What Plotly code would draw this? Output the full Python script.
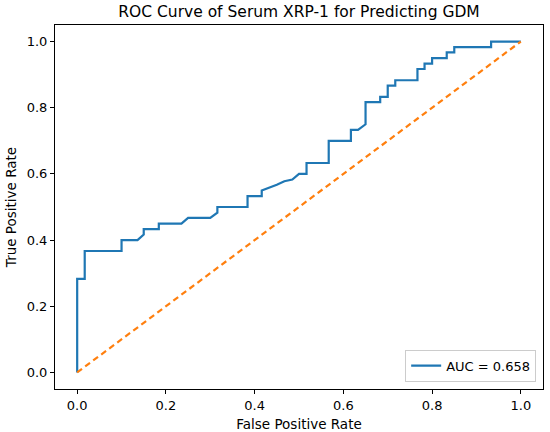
import plotly.graph_objects as go

# ROC points
fpr = [0.0, 0.0, 0.017, 0.017, 0.100, 0.100, 0.136, 0.150, 0.150, 0.184, 0.184,
       0.235, 0.250, 0.300, 0.316, 0.316, 0.384, 0.384, 0.416, 0.416, 0.450,
       0.467, 0.485, 0.500, 0.517, 0.517, 0.567, 0.567, 0.617, 0.617, 0.633,
       0.650, 0.650, 0.683, 0.683, 0.700, 0.700, 0.717, 0.717, 0.767, 0.767,
       0.783, 0.783, 0.800, 0.800, 0.833, 0.833, 0.850, 0.850, 0.933, 0.933, 1.0]
tpr = [0.0, 0.283, 0.283, 0.367, 0.367, 0.400, 0.400, 0.417, 0.433, 0.433, 0.450,
       0.450, 0.467, 0.467, 0.483, 0.500, 0.500, 0.533, 0.533, 0.550, 0.567,
       0.578, 0.583, 0.600, 0.600, 0.633, 0.633, 0.700, 0.700, 0.733, 0.733,
       0.750, 0.817, 0.817, 0.833, 0.833, 0.867, 0.867, 0.883, 0.883, 0.917,
       0.917, 0.933, 0.933, 0.950, 0.950, 0.967, 0.967, 0.983, 0.983, 1.0, 1.0]
auc = 0.658
chance = [0.0, 1.0]
ticks = [0.0, 0.2, 0.4, 0.6, 0.8, 1.0]

fig = go.Figure()
fig.add_trace(go.Scatter(x=fpr, y=tpr, mode='lines', name=f'AUC = {auc:.3f}',
                         line=dict(color='#1f77b4', width=2.2)))
fig.add_trace(go.Scatter(x=chance, y=chance, mode='lines', showlegend=False,
                         line=dict(color='#ff7f0e', width=2.2, dash='6px,4px')))

axis = dict(range=[-0.05, 1.05], tickvals=ticks, tickformat='.1f', automargin=False,
            showgrid=False, zeroline=False, showline=True, linecolor='black',
            linewidth=1, mirror=True, ticks='outside', ticklen=4,
            tickcolor='black', tickfont=dict(size=13, color='black'))

fig.update_layout(
    width=550, height=432,
    margin=dict(l=55, r=7, t=25, b=43),
    paper_bgcolor='white', plot_bgcolor='white',
    font=dict(family='DejaVu Sans', size=13, color='black'),
    title=dict(text='ROC Curve of Serum XRP-1 for Predicting GDM', x=0.5, xref='paper',
               y=1 - 12 / 432, yref='container', yanchor='middle',
               font=dict(size=15.5)),
    xaxis=dict(axis, title=dict(text='False Positive Rate', standoff=7, font=dict(size=13.5))),
    yaxis=dict(axis, title=dict(text='True Positive Rate', standoff=6, font=dict(size=13.5))),
    legend=dict(x=0.986, y=0.02, xanchor='right', yanchor='bottom',
                bordercolor='#cccccc', borderwidth=1, bgcolor='white',
                font=dict(size=13), tracegroupgap=0),
)

# page body has a default 8px margin, drop it so the figure sits at 0,0
fig.write_html("out.html", config={'displayModeBar': False},
               post_script="document.body.style.margin='0';")
